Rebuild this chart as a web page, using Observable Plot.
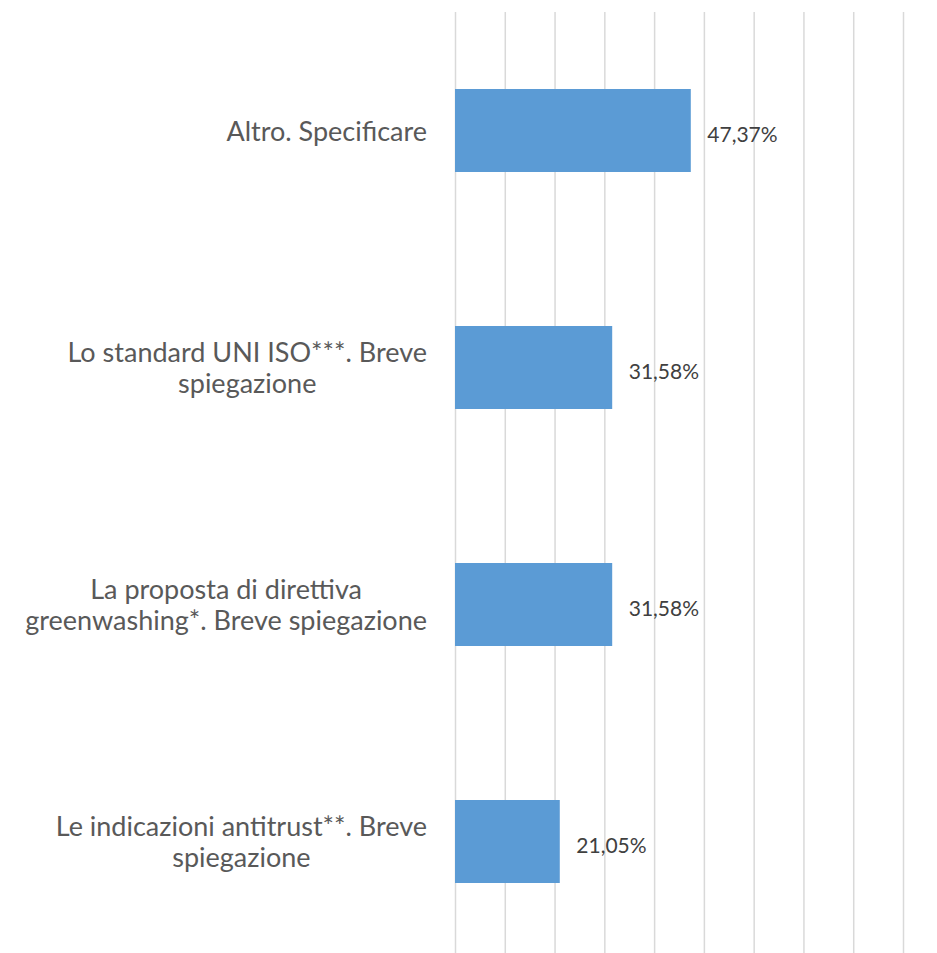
<!DOCTYPE html>
<html>
<head>
<meta charset="utf-8">
<script src="https://cdn.jsdelivr.net/npm/d3@7"></script>
<script src="https://cdn.jsdelivr.net/npm/@observablehq/plot@0.6"></script>
<style>
  html, body { margin: 0; padding: 0; background: #ffffff; }
  #chart svg { display: block; }
</style>
</head>
<body>
<div id="chart"></div>
<script>
const categories = [
  "Altro. Specificare",
  "Lo standard UNI ISO***. Breve spiegazione",
  "La proposta di direttiva greenwashing*. Breve spiegazione",
  "Le indicazioni antitrust**. Breve spiegazione"
];
const labelLines = [
  "Altro. Specificare",
  "Lo standard UNI ISO***. Breve\nspiegazione",
  "La proposta di direttiva\ngreenwashing*. Breve spiegazione",
  "Le indicazioni antitrust**. Breve\nspiegazione"
];
const values = [47.37, 31.58, 31.58, 21.05];
const gridTicks = [0, 10, 20, 30, 40, 50, 60, 70, 80, 90];

const data = categories.map((c, i) => ({cat: c, label: labelLines[i], value: values[i]}));
const fmt = v => d3.format(".2f")(v).replace(".", ",") + "%";
const font = "Lato, 'Open Sans', sans-serif";

const chart = Plot.plot({
  width: 937,
  height: 953,
  marginLeft: 455,
  marginRight: 34,
  marginTop: 12,
  marginBottom: 0,
  style: {fontFamily: font, background: "#ffffff"},
  x: {domain: [0, 90], axis: null},
  y: {domain: categories, range: [12, 960], paddingInner: 0.648, paddingOuter: 0.324, axis: null},
  marks: [
    Plot.ruleX(gridTicks, {stroke: "#d9d9d9", strokeWidth: 1.5}),
    Plot.barX(data, {y: "cat", x: "value", fill: "#5b9bd5"}),
    Plot.text(data, {
      y: "cat", x: "value", text: d => fmt(d.value),
      textAnchor: "start", dx: 16, dy: 4, fontSize: 21, fill: "#404040"
    }),
    Plot.text(data, {
      y: "cat", x: 0, text: "label",
      textAnchor: "middle", dx: -130, dy: 0, fontSize: 27, lineHeight: 1.15, fill: "#595959"
    })
  ]
});
document.getElementById("chart").appendChild(chart);

// right-align each centred label block to a common edge, as in the reference
const labelGroups = chart.querySelectorAll('g[aria-label="text"]');
const labelGroup = labelGroups[labelGroups.length - 1];
const svgLeft = chart.getBoundingClientRect().left;
const rightEdge = 427;
labelGroup.querySelectorAll("text").forEach(t => {
  const r = t.getBoundingClientRect();
  const shift = rightEdge - (r.right - svgLeft);
  const tr = t.getAttribute("transform") || "";
  t.setAttribute("transform", `translate(${shift},0) ${tr}`);
});
</script>
</body>
</html>
